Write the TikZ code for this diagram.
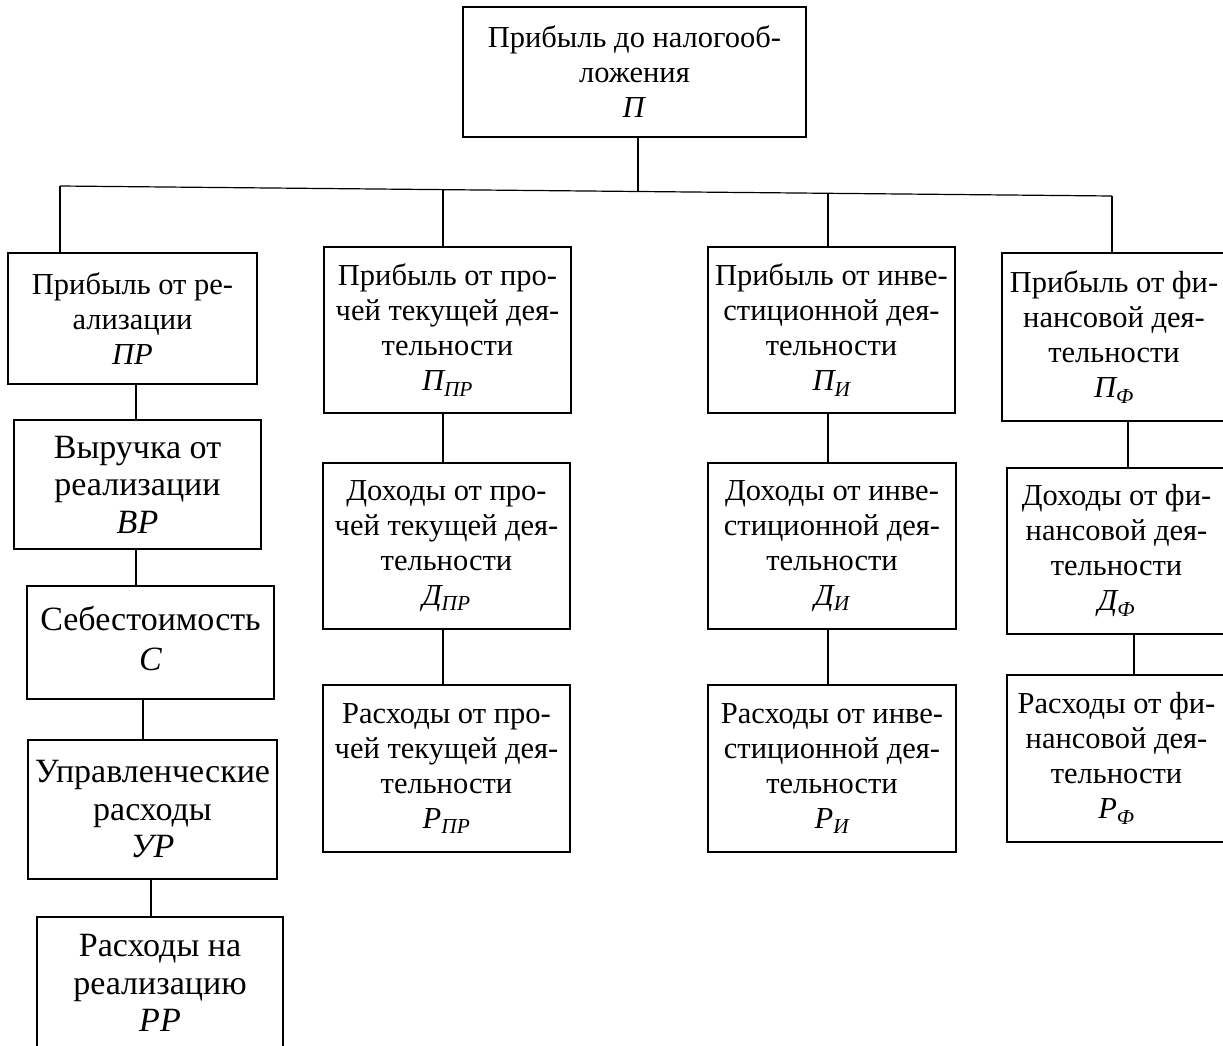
\documentclass[tikz,border=0pt]{standalone}
\usepackage{fontspec}
\setmainfont{Liberation Serif}
\usetikzlibrary{positioning, calc}

\begin{document}
\begin{tikzpicture}[
    x=1pt, y=-1pt,
    every node/.style={font=\fontsize{30.5}{35}\selectfont},
    blk/.style={draw, rectangle, align=center, inner sep=0pt, line width=1.2pt},
    big/.style={font=\fontsize{34}{37.5}\selectfont},
    line width=1.2pt
]
\useasboundingbox (0,0) rectangle (1223,1046);

% Top
\node[blk, minimum width=343pt, minimum height=130pt] (pt) at (634.5,72)
    {Прибыль до налогооб-\\ложения\\\textit{П}};

% Bus
\coordinate (b0) at (638,191.5);
\coordinate (b1) at (60,186);
\coordinate (b2) at (443,189.6);
\coordinate (b3) at (828,193.3);
\coordinate (b4) at (1112,196);
\draw (b1) -- (b4);
\draw (b0 |- pt.south) -- (b0);

% Left column
\node[blk, minimum width=249pt, minimum height=131pt] (pr) at (132.5,318.5)
    {Прибыль от ре-\\ализации\\\textit{ПР}};
\node[blk, big, minimum width=247pt, minimum height=129pt] (vr) at (137.5,484.5)
    {Выручка от\\реализации\\\textit{ВР}};
\node[blk, big, minimum width=247pt, minimum height=113pt] (sb) at (150.5,642.5)
    {\raisebox{7pt}{\begin{tabular}{@{}c@{}}Себестоимость\\[2.5pt]\textit{С}\end{tabular}}};
\node[blk, big, minimum width=249pt, minimum height=139pt] (ur) at (152.5,809.5)
    {Управленческие\\расходы\\\textit{УР}};
\node[blk, big, minimum width=246pt, minimum height=132pt] (rr) at (160,983)
    {Расходы на\\реализацию\\\textit{РР}};

\draw (b1) -- (b1 |- pr.north);
\draw ([xshift=3.5pt]pr.south) -- ([xshift=3.5pt]pr.south |- vr.north);
\draw ([xshift=-1.5pt]vr.south) -- ([xshift=-1.5pt]vr.south |- sb.north);
\draw ([xshift=-7.5pt]sb.south) -- ([xshift=-7.5pt]sb.south |- ur.north);
\draw ([xshift=-1.5pt]ur.south) -- ([xshift=-1.5pt]ur.south |- rr.north);

% Second column
\node[blk, minimum width=247pt, minimum height=166pt] (pp) at (447.5,330)
    {Прибыль от про-\\чей текущей дея-\\тельности\\\textit{П\textsubscript{ПР}}};
\node[blk, minimum width=247pt, minimum height=166pt] (dp) at (446.5,546)
    {Доходы от про-\\чей текущей дея-\\тельности\\\textit{Д\textsubscript{ПР}}};
\node[blk, minimum width=247pt, minimum height=167pt] (rp) at (446.5,768.5)
    {Расходы от про-\\чей текущей дея-\\тельности\\\textit{Р\textsubscript{ПР}}};

\draw (b2) -- (b2 |- pp.north);
\draw (b2 |- pp.south) -- (b2 |- dp.north);
\draw (b2 |- dp.south) -- (b2 |- rp.north);

% Third column
\node[blk, minimum width=247pt, minimum height=166pt] (pi) at (831.5,330)
    {Прибыль от инве-\\стиционной дея-\\тельности\\\textit{П\textsubscript{И}}};
\node[blk, minimum width=248pt, minimum height=166pt] (di) at (832,546)
    {Доходы от инве-\\стиционной дея-\\тельности\\\textit{Д\textsubscript{И}}};
\node[blk, minimum width=248pt, minimum height=167pt] (ri) at (832,768.5)
    {Расходы от инве-\\стиционной дея-\\тельности\\\textit{Р\textsubscript{И}}};

\draw (b3) -- (b3 |- pi.north);
\draw (b3 |- pi.south) -- (b3 |- di.north);
\draw (b3 |- di.south) -- (b3 |- ri.north);

% Right column
\node[blk, minimum width=224pt, minimum height=168pt] (pf) at (1114,337)
    {Прибыль от фи-\\нансовой дея-\\тельности\\\textit{П\textsubscript{Ф}}};
\node[blk, minimum width=219pt, minimum height=166pt] (df) at (1116.5,551)
    {Доходы от фи-\\нансовой дея-\\тельности\\\textit{Д\textsubscript{Ф}}};
\node[blk, minimum width=219pt, minimum height=167pt] (rf) at (1116.5,758.5)
    {Расходы от фи-\\нансовой дея-\\тельности\\\textit{Р\textsubscript{Ф}}};

\draw (b4) -- (b4 |- pf.north);
\draw ([xshift=14pt]pf.south) -- ([xshift=14pt]pf.south |- df.north);
\draw ([xshift=17.5pt]df.south) -- ([xshift=17.5pt]df.south |- rf.north);
\end{tikzpicture}
\end{document}
